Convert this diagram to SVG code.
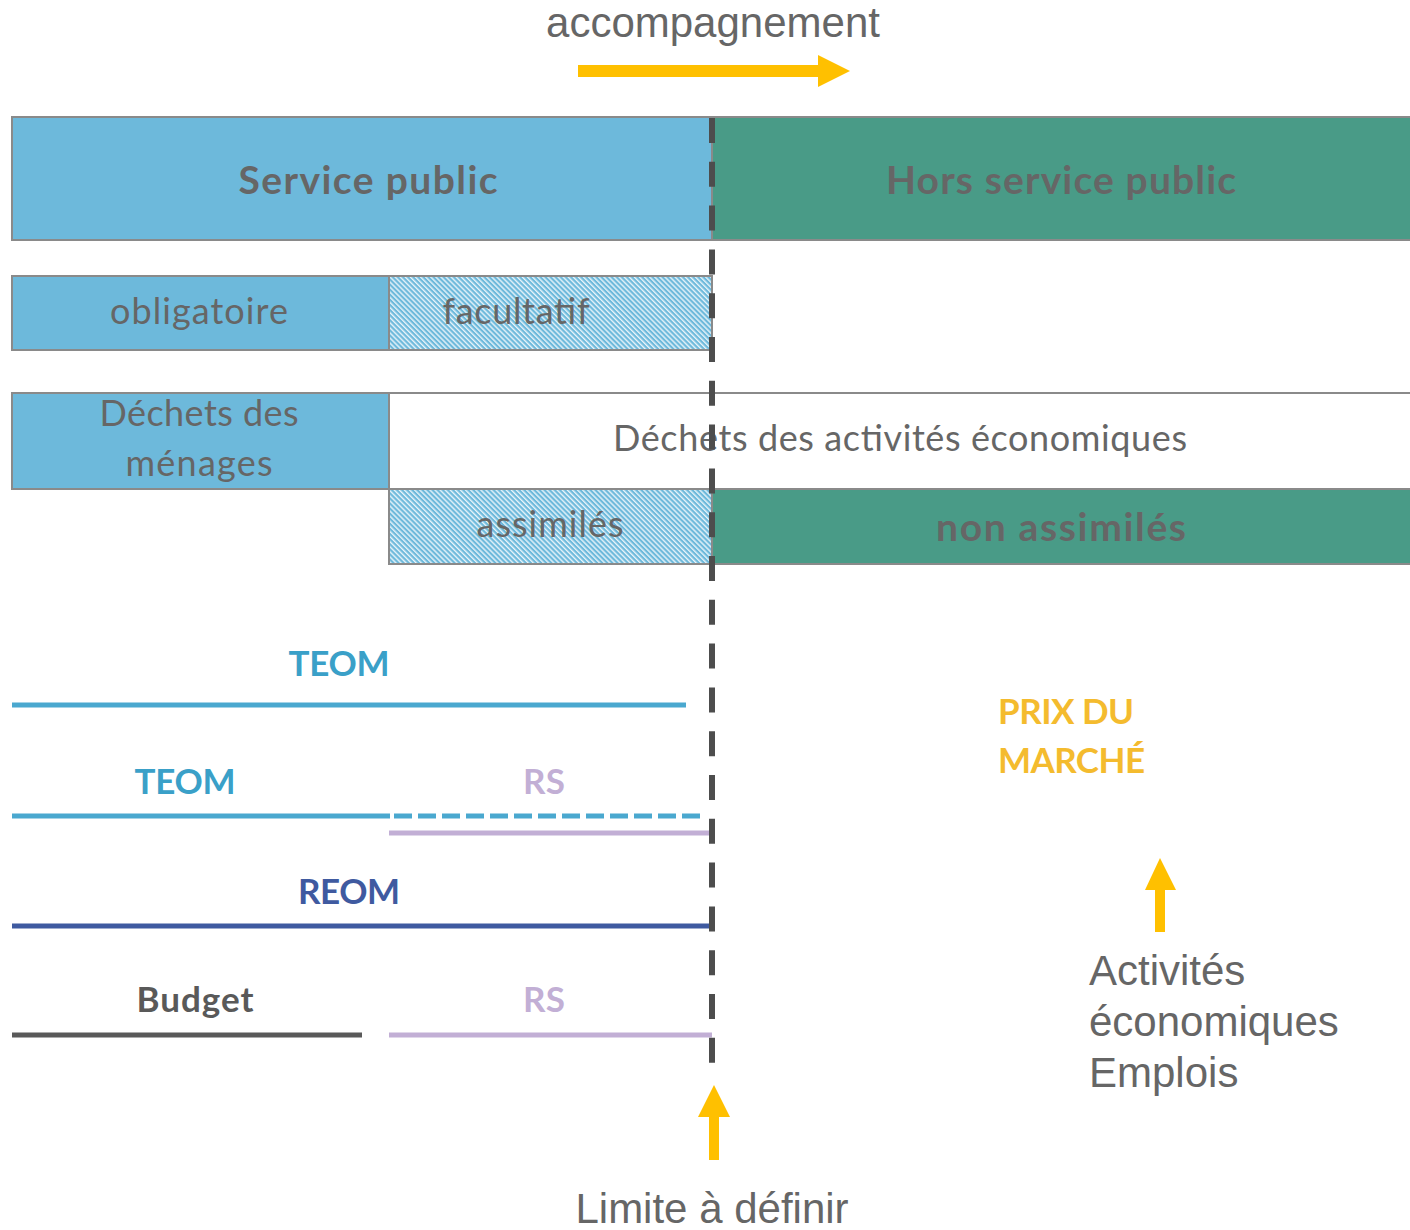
<svg xmlns="http://www.w3.org/2000/svg" width="1410" height="1230" viewBox="0 0 1410 1230">
<style>
.box{stroke:#8a8a8a;stroke-width:2}
.blue{fill:#6DB9DB}
.green{fill:#499B87}
.hatch{fill:url(#hatch)}
.cal{font-family:Lato,"Open Sans",sans-serif;text-anchor:middle;fill:#666666}
.b{font-weight:bold}
.ar{font-family:"Liberation Sans",Arial,sans-serif;fill:#666666;font-size:42px}
.ln{fill:none;stroke-width:5}
.yel{fill:#FFC000}
</style>
<defs>
<pattern id="hatch" width="3.6" height="3.6" patternUnits="userSpaceOnUse" patternTransform="rotate(45)">
<rect width="3.6" height="3.6" fill="#E8F4FA"/>
<rect width="3.6" height="2.2" fill="#6DB9DB"/>
</pattern>
</defs>
<g id="title">
<text class="ar" x="713" y="37" text-anchor="middle">accompagnement</text>
<polygon class="yel" points="578,65 818,65 818,55 850,71 818,87 818,77 578,77"/>
</g>
<g id="service-public">
<rect class="box blue" x="12" y="117" width="700" height="123"/>
<text class="cal b" x="368" y="194" font-size="39" textLength="259">Service public</text>
</g>
<g id="hors-service-public">
<rect class="box green" x="712" y="117" width="700" height="123"/>
<text class="cal b" x="1061" y="194" font-size="39" textLength="350">Hors service public</text>
</g>
<g id="obligatoire">
<rect class="box blue" x="12" y="276" width="377" height="74"/>
<text class="cal" x="199" y="324" font-size="36" textLength="178">obligatoire</text>
</g>
<g id="facultatif">
<rect class="box hatch" x="389" y="276" width="323" height="74"/>
<text class="cal" x="516" y="324" font-size="36" textLength="147">facultatif</text>
</g>
<g id="dechets-menages">
<rect class="box blue" x="12" y="393" width="377" height="96"/>
<text class="cal" x="199" y="426" font-size="36" textLength="199">Déchets des</text>
<text class="cal" x="199" y="476" font-size="36" textLength="147">ménages</text>
</g>
<g id="dechets-activites">
<rect class="box" fill="#ffffff" x="389" y="393" width="1023" height="96"/>
<text class="cal" x="900" y="451" font-size="36" textLength="574">Déchets des activités économiques</text>
</g>
<g id="assimiles">
<rect class="box hatch" x="389" y="489" width="323" height="75"/>
<text class="cal" x="550" y="537" font-size="36" textLength="147">assimilés</text>
</g>
<g id="non-assimiles">
<rect class="box green" x="712" y="489" width="700" height="75"/>
<text class="cal b" x="1061" y="541" font-size="39" textLength="250">non assimilés</text>
</g>
<g id="financements">
<text class="cal b" x="339" y="676" font-size="35" style="fill:#3AA0C8" textLength="101">TEOM</text>
<text class="cal b" x="185" y="794" font-size="35" style="fill:#3AA0C8" textLength="101">TEOM</text>
<text class="cal b" x="544" y="794" font-size="35" style="fill:#C2AFD5" textLength="42">RS</text>
<text class="cal b" x="349" y="904" font-size="35" style="fill:#3F5AA0" textLength="102">REOM</text>
<text class="cal b" x="195" y="1012" font-size="35" style="fill:#595959" textLength="117">Budget</text>
<text class="cal b" x="544" y="1012" font-size="35" style="fill:#C2AFD5" textLength="42">RS</text>
</g>
<g id="prix-marche">
<text class="cal b" x="998" y="724" font-size="35" style="fill:#F4BB2E;text-anchor:start" textLength="136">PRIX DU</text>
<text class="cal b" x="998" y="773" font-size="35" style="fill:#F4BB2E;text-anchor:start" textLength="147">MARCHÉ</text>
</g>
<g id="activites">
<polygon class="yel" points="1155,932 1155,890 1145,890 1160,858 1176,890 1165,890 1165,932"/>
<text class="ar" x="1089" y="985">Activités</text>
<text class="ar" x="1089" y="1036">économiques</text>
<text class="ar" x="1089" y="1087">Emplois</text>
</g>
<g id="limite">
<polygon class="yel" points="709,1160 709,1117 698,1117 714,1085 730,1117 719,1117 719,1160"/>
<text class="ar" x="712" y="1223" text-anchor="middle">Limite à définir</text>
</g>
<g id="connectors">
<line class="ln" x1="12" y1="705" x2="686" y2="705" stroke="#4AA8CF"/>
<line class="ln" x1="12" y1="816" x2="390" y2="816" stroke="#4AA8CF"/>
<line class="ln" x1="394" y1="816" x2="706" y2="816" stroke="#4AA8CF" stroke-dasharray="18 6"/>
<line class="ln" x1="389" y1="833" x2="712" y2="833" stroke="#C2AFD5"/>
<line class="ln" x1="12" y1="926" x2="712" y2="926" stroke="#3F5AA0"/>
<line class="ln" x1="12" y1="1035" x2="362" y2="1035" stroke="#595959"/>
<line class="ln" x1="389" y1="1035" x2="712" y2="1035" stroke="#C2AFD5"/>
<line x1="712" y1="118" x2="712" y2="1068" stroke="#4D4D4D" stroke-width="6" stroke-dasharray="25 18.8"/>
</g>
</svg>
